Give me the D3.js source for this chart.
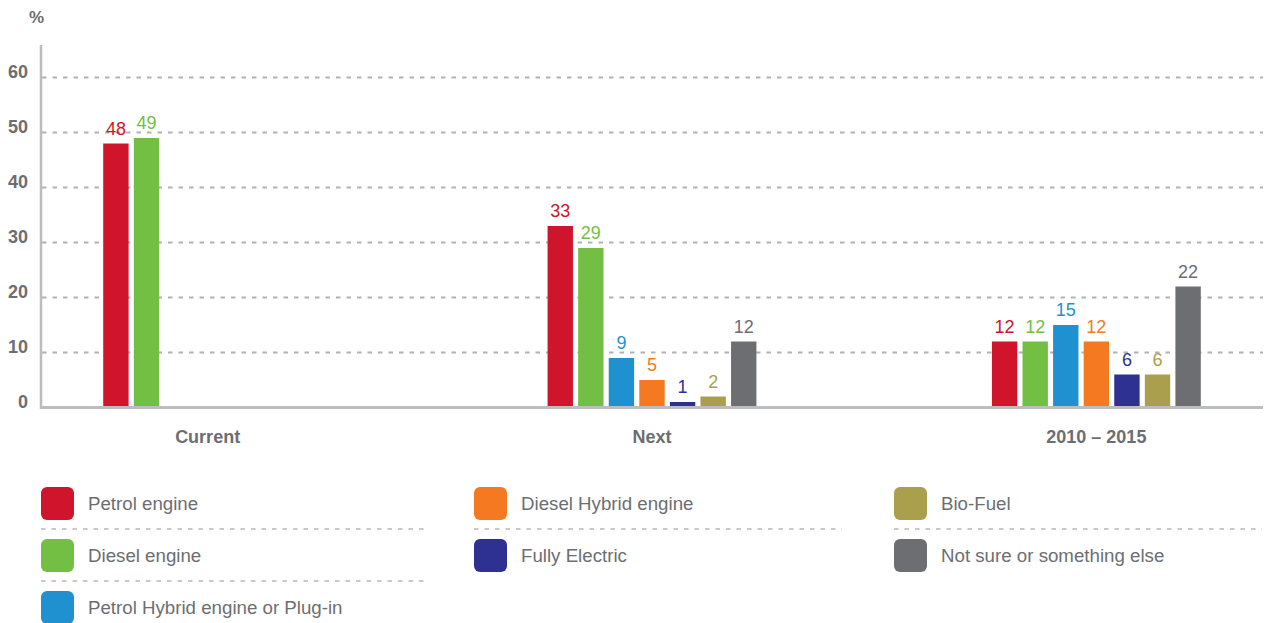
<!DOCTYPE html>
<html>
<head>
<meta charset="utf-8">
<script src="https://cdn.jsdelivr.net/npm/d3@7/dist/d3.min.js"></script>
<style>
  html, body { margin: 0; padding: 0; background: #fff; }
  svg { display: block; font-family: "Liberation Sans", Arial, Helvetica, sans-serif; }
</style>
</head>
<body>
<svg id="chart" width="1267" height="623"></svg>
<script>
// Survey periods shown on the x axis
const periods = ["Current", "Next", "2010 \u2013 2015"];

// Engine types (series)
const engines = [
  "Petrol engine",
  "Diesel engine",
  "Petrol Hybrid engine or Plug-in",
  "Diesel Hybrid engine",
  "Fully Electric",
  "Bio-Fuel",
  "Not sure or something else"
];

const engineColors = ["#d0142b", "#72bf44", "#1f91d0", "#f47920", "#2e3192", "#aa9f4c", "#6d6e71"];

// Share of respondents (%) per period; null where no bar is shown
const currentValues = [48, 49, null, null, null, null, null];
const nextValues    = [33, 29, 9, 5, 1, 2, 12];
const recentValues  = [12, 12, 15, 12, 6, 6, 22];

const yTicks = [0, 10, 20, 30, 40, 50, 60];

// legend placement: column and row of each engine entry
const legendColumnOf = [0, 0, 0, 1, 1, 2, 2];
const legendRowOf    = [0, 1, 2, 0, 1, 0, 1];

const valuesByPeriod = [currentValues, nextValues, recentValues];
const rows = [];
periods.forEach((p, i) => {
  engines.forEach((e, j) => {
    const v = valuesByPeriod[i][j];
    if (v !== null) rows.push({ period: p, engine: e, value: v, color: engineColors[j] });
  });
});

const svg = d3.select("#chart");
const textGrey = "#6d6e71";
const lineGrey = "#bcbdc0";

const plotLeft = 41, plotRight = 1263, plotBottom = 407.5, plotTop = 45;

const y = d3.scaleLinear().domain([0, 60]).range([plotBottom, plotBottom - 330]);

const x0 = d3.scaleBand()
  .domain(periods)
  .range([plotLeft, plotRight])
  .paddingInner(0.53)
  .paddingOuter(0.14);

const x1 = d3.scaleBand()
  .domain(engines)
  .range([0, x0.bandwidth()])
  .paddingInner(0.17)
  .paddingOuter(0);

// dashed gridlines
svg.append("g")
  .selectAll("line")
  .data(yTicks.filter(d => d > 0))
  .join("line")
  .attr("x1", plotLeft + 1)
  .attr("x2", plotRight)
  .attr("y1", d => y(d))
  .attr("y2", d => y(d))
  .attr("stroke", "#b1b2b5")
  .attr("stroke-width", 2)
  .attr("stroke-dasharray", "4.5,6");

// y tick labels
svg.append("g")
  .selectAll("text")
  .data(yTicks)
  .join("text")
  .attr("x", 28)
  .attr("y", d => y(d))
  .attr("text-anchor", "end")
  .attr("fill", textGrey)
  .attr("font-weight", "bold")
  .attr("font-size", 18)
  .text(d => d);

svg.append("text")
  .attr("x", 29)
  .attr("y", 23)
  .attr("fill", textGrey)
  .attr("font-weight", "bold")
  .attr("font-size", 17)
  .text("%");

// bars
svg.append("g")
  .selectAll("rect")
  .data(rows)
  .join("rect")
  .attr("x", d => x0(d.period) + x1(d.engine))
  .attr("width", x1.bandwidth())
  .attr("y", d => y(d.value))
  .attr("height", d => y(0) - y(d.value))
  .attr("fill", d => d.color);

// value labels
svg.append("g")
  .selectAll("text")
  .data(rows)
  .join("text")
  .attr("x", d => x0(d.period) + x1(d.engine) + x1.bandwidth() / 2)
  .attr("y", d => y(d.value) - 9)
  .attr("text-anchor", "middle")
  .attr("fill", d => d.color)
  .attr("font-size", 18)
  .text(d => d.value);

// axis lines
svg.append("line")
  .attr("x1", plotLeft).attr("x2", plotLeft)
  .attr("y1", plotTop).attr("y2", plotBottom + 1.5)
  .attr("stroke", lineGrey).attr("stroke-width", 2.5);
svg.append("line")
  .attr("x1", plotLeft - 1).attr("x2", plotRight)
  .attr("y1", plotBottom).attr("y2", plotBottom)
  .attr("stroke", lineGrey).attr("stroke-width", 3);

// category labels
svg.append("g")
  .selectAll("text")
  .data(periods)
  .join("text")
  .attr("x", d => x0(d) + x0.bandwidth() / 2)
  .attr("y", 443)
  .attr("text-anchor", "middle")
  .attr("fill", textGrey)
  .attr("font-weight", "bold")
  .attr("font-size", 18)
  .text(d => d);

// legend: three columns with dashed separators between entries
const legendCols = [41, 474, 894];
const legendSepEnd = [428, 842, 1262];
const legendRowY = [487, 539, 591];
const legend = svg.append("g");
engines.forEach((e, i) => {
  const col = legendColumnOf[i];
  const row = legendRowOf[i];
  const lx = legendCols[col];
  const ly = legendRowY[row];
  legend.append("rect")
    .attr("x", lx).attr("y", ly)
    .attr("width", 33).attr("height", 33)
    .attr("rx", 6).attr("ry", 6)
    .attr("fill", engineColors[i]);
  legend.append("text")
    .attr("x", lx + 47)
    .attr("y", ly + 16.5)
    .attr("dy", "0.35em")
    .attr("fill", textGrey)
    .attr("font-size", 18.7)
    .text(e);
  const hasNext = legendColumnOf[i + 1] === col;
  if (hasNext) {
    const sy = ly + 42;
    legend.append("line")
      .attr("x1", lx).attr("x2", legendSepEnd[col])
      .attr("y1", sy).attr("y2", sy)
      .attr("stroke", "#b7b8bb")
      .attr("stroke-width", 1.5)
      .attr("stroke-dasharray", "4.5,6");
  }
});
</script>
</body>
</html>
